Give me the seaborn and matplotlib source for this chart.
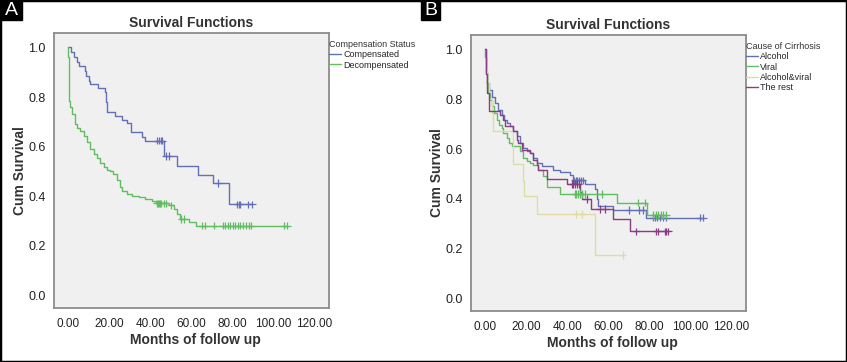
import numpy as np
import pandas as pd
import seaborn as sns
import matplotlib.pyplot as plt
from matplotlib.patches import Rectangle

# ---- panel A: compensation status ----
comp_t = [0, 1.6, 2.8, 4.4, 5.5, 8.1, 8.8, 10.1, 10.9, 14.6, 17.9, 18.5, 19.2, 23.1, 26.3,
          28.8, 30.4, 36.1, 37.5, 46.5, 53.1, 63.2, 70.4, 78.2, 89.6]
comp_s = [1.0, 0.98, 0.96, 0.942, 0.923, 0.906, 0.886, 0.866, 0.852, 0.835, 0.819, 0.78, 0.738,
          0.724, 0.708, 0.695, 0.66, 0.64, 0.624, 0.562, 0.524, 0.487, 0.453, 0.367, 0.367]
comp_cens = [43.4, 44.2, 45.0, 45.8, 47.6, 49.0, 73.2, 82.3, 83.2, 83.9, 87.8, 89.6]

dec_t = [0, 0.15, 0.3, 0.45, 0.55, 0.65, 1.1, 1.95, 3.25, 4.4, 6.0, 7.6, 9.3, 10.9, 12.5, 14.1,
         15.8, 17.4, 19.0, 20.5, 22.1, 23.7, 25.4, 26.2, 28.6, 31.0, 34.3, 37.6, 40.8, 43.0,
         48.9, 51.4, 53.0, 54.6, 58.7, 62.4, 106.7]
dec_s = [1.0, 0.96, 0.92, 0.88, 0.84, 0.785, 0.758, 0.731, 0.691, 0.677, 0.664, 0.644, 0.617,
         0.59, 0.57, 0.556, 0.536, 0.52, 0.505, 0.5, 0.49, 0.464, 0.437, 0.423, 0.41, 0.403,
         0.396, 0.39, 0.383, 0.372, 0.363, 0.35, 0.329, 0.309, 0.296, 0.282, 0.282]
dec_cens = [43.3, 43.8, 44.3, 44.8, 45.3, 46.5, 47.5, 50.0, 55.2, 56.5, 65.2, 66.8, 70.9, 75.4,
            76.6, 77.7, 79.0, 80.3, 81.4, 82.7, 83.9, 85.2, 86.5, 87.9, 89.0, 105.0, 106.7]

# ---- panel B: cause of cirrhosis ----
alc_t = [0, 0.2, 0.4, 0.6, 0.8, 1.1, 2.1, 3.2, 4.9, 6.5, 8.1, 9.2, 10.5, 12.1, 13.8, 15.4, 17.0,
         18.6, 20.3, 21.9, 23.5, 25.1, 27.5, 33.2, 36.4, 41.3, 42.9, 48.6, 53.4, 54.3, 55.1,
         62.3, 78.2, 106.4]
alc_s = [1.0, 0.97, 0.94, 0.91, 0.89, 0.864, 0.837, 0.811, 0.784, 0.757, 0.737, 0.717, 0.704,
         0.691, 0.671, 0.651, 0.624, 0.604, 0.591, 0.584, 0.564, 0.544, 0.531, 0.517, 0.507,
         0.495, 0.475, 0.46, 0.44, 0.40, 0.373, 0.356, 0.325, 0.325]
alc_cens = [43.5, 44.3, 45.0, 45.8, 46.5, 47.5, 69.9, 74.8, 76.7, 81.8, 82.8, 83.8, 85.0, 86.5,
            88.3, 104.5, 106.0]

vir_t = [0, 0.3, 0.6, 1.0, 1.6, 2.4, 3.2, 4.4, 5.7, 6.9, 8.1, 8.9, 10.5, 11.8, 13.0, 17.0, 18.6,
         20.3, 21.9, 23.5, 25.9, 28.3, 30.0, 36.4, 64.0, 78.6, 88.3]
vir_s = [1.0, 0.95, 0.9, 0.86, 0.824, 0.797, 0.771, 0.744, 0.717, 0.697, 0.684, 0.664, 0.644,
         0.624, 0.611, 0.591, 0.564, 0.551, 0.544, 0.535, 0.515, 0.493, 0.447, 0.42, 0.385,
         0.335, 0.335]
vir_cens = [43.7, 44.5, 45.3, 46.2, 47.0, 48.6, 56.7, 74.5, 77.7, 81.8, 83.0, 84.2, 85.5, 86.8, 88.3]

av_t = [0, 0.5, 1.0, 2.1, 3.2, 3.7, 13.4, 13.8, 18.3, 19.0, 25.1, 53.4, 67.0]
av_s = [1.0, 0.93, 0.87, 0.8, 0.744, 0.673, 0.613, 0.54, 0.473, 0.413, 0.34, 0.175, 0.175]
av_cens = [44.5, 47.0, 67.0]

rest_t = [0, 0.3, 0.6, 1.1, 2.1, 7.3, 8.9, 9.7, 13.8, 15.4, 16.2, 17.8, 21.9, 23.2, 25.1, 25.9,
          30.0, 39.7, 46.2, 47.0, 51.8, 62.3, 70.5, 89.1]
rest_s = [1.0, 0.95, 0.9, 0.824, 0.751, 0.737, 0.717, 0.691, 0.671, 0.637, 0.624, 0.597, 0.584,
          0.557, 0.537, 0.517, 0.48, 0.46, 0.427, 0.40, 0.36, 0.32, 0.27, 0.27]
rest_cens = [42.2, 43.0, 43.8, 44.6, 45.5, 49.4, 55.9, 58.3, 73.7, 83.4, 84.2, 87.5, 88.3, 89.1]

groups_a = ["Compensated", "Decompensated"]
groups_b = ["Alcohol", "Viral", "Alcohol&viral", "The rest"]
colors_a = ["#6470b4", "#62bd62"]
colors_b = ["#6470b4", "#62bd62", "#dcdca6", "#8a3d84"]

x_ticks = [0, 20, 40, 60, 80, 100, 120]
y_ticks = [0.0, 0.2, 0.4, 0.6, 0.8, 1.0]


def build_frames(curves):
    rows, cens = [], []
    for name, t, s, c in curves:
        for ti, si in zip(t, s):
            rows.append({"month": ti, "surv": si, "group": name})
        # censored cases sit on the curve at their time
        idx = np.searchsorted(t, c, side="right") - 1
        for ci, k in zip(c, idx):
            cens.append({"month": ci, "surv": s[k], "group": name})
    return pd.DataFrame(rows), pd.DataFrame(cens)


def draw_panel(ax, curves, names, colors, legend_title):
    pal = dict(zip(names, colors))
    df, cf = build_frames(curves)
    sns.lineplot(data=df, x="month", y="surv", hue="group", hue_order=names, palette=pal,
                 drawstyle="steps-post", estimator=None, sort=False, linewidth=1.0, ax=ax)
    sns.scatterplot(data=cf, x="month", y="surv", hue="group", hue_order=names, palette=pal,
                    marker="+", s=28, linewidth=0.9, legend=False, ax=ax, zorder=3)

    ax.set_facecolor("#f0f0f0")
    ax.set_xlim(-6.8, 127)
    ax.set_ylim(-0.05, 1.058)
    ax.set_xticks(x_ticks)
    ax.set_xticklabels([f"{v:.2f}" for v in x_ticks], fontsize=8.5, color="#222222")
    ax.set_yticks(y_ticks)
    ax.set_yticklabels([f"{v:.1f}" for v in y_ticks], fontsize=9, color="#222222")
    ax.tick_params(direction="out", length=4, width=1, color="#444444", pad=2)
    ax.tick_params(axis="x", pad=3)
    for sp in ax.spines.values():
        sp.set_visible(True)
        sp.set_color("#8c8c8c")
        sp.set_linewidth(1.3)

    ax.set_title("Survival Functions", fontsize=10, fontweight="bold", color="#333333", pad=4)
    ax.set_xlabel("Months of follow up", fontsize=10, fontweight="bold", color="#333333")
    ax.set_ylabel("Cum Survival", fontsize=10, fontweight="bold", color="#333333")
    ax.xaxis.set_label_coords(0.515, -0.09)
    ax.yaxis.set_label_coords(-0.1, 0.5)

    handles, labels = ax.get_legend_handles_labels()
    leg = ax.legend(handles, labels, title=legend_title, loc="upper left",
                    bbox_to_anchor=(1.0, 0.975), frameon=False, fontsize=6.5,
                    title_fontsize=6.5, handlelength=1.3, handletextpad=0.25,
                    labelspacing=0.15, borderaxespad=0, borderpad=0, alignment="left")
    leg.get_title().set_color("#333333")


sns.set_style("white")
plt.rcParams["font.family"] = ["Liberation Sans", "DejaVu Sans"]

fig = plt.figure(figsize=(8.47, 3.62), dpi=100)
ax_a = fig.add_axes([0.0638, 0.1492, 0.3247, 0.7597])
ax_b = fig.add_axes([0.5561, 0.1409, 0.3247, 0.7624])

draw_panel(ax_a,
           [("Compensated", comp_t, comp_s, comp_cens),
            ("Decompensated", dec_t, dec_s, dec_cens)],
           groups_a, colors_a, "Compensation Status")
draw_panel(ax_b,
           [("Alcohol", alc_t, alc_s, alc_cens),
            ("Viral", vir_t, vir_s, vir_cens),
            ("Alcohol&viral", av_t, av_s, av_cens),
            ("The rest", rest_t, rest_s, rest_cens)],
           groups_b, colors_b, "Cause of Cirrhosis")

# panel letters and outer frame
fig.patches.append(Rectangle((0, 0), 1, 1, transform=fig.transFigure, fill=False,
                             edgecolor="black", linewidth=2.5))
for x0, w, letter in [(0.0, 22 / 847, "A"), (421 / 847, 19 / 847, "B")]:
    fig.patches.append(Rectangle((x0, 1 - 20 / 362), w, 20 / 362, transform=fig.transFigure,
                                 facecolor="black", edgecolor="black"))
    fig.text(x0 + w / 2, 1 - 10.5 / 362, letter, color="white", fontsize=14,
             ha="center", va="center")

fig.savefig("out.png", dpi=100)
